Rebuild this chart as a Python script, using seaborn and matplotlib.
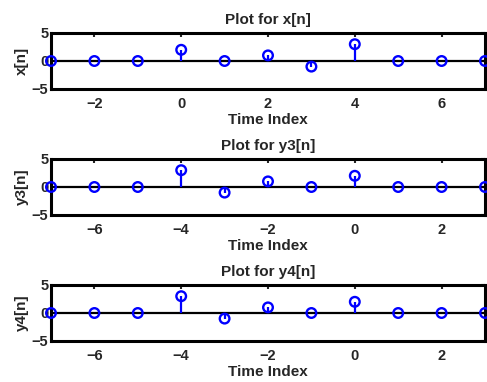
import numpy as np
import pandas as pd
import matplotlib
matplotlib.use("Agg")
import matplotlib.pyplot as plt
import seaborn as sns

# Original sequence and its time-reversed versions
n_x = [-3, -2, -1, 0, 1, 2, 3, 4, 5, 6, 7]
x_vals = [0, 0, 0, 2, 0, 1, -1, 3, 0, 0, 0]

n_y3 = [-7, -6, -5, -4, -3, -2, -1, 0, 1, 2, 3]
y3_vals = [0, 0, 0, 3, -1, 1, 0, 2, 0, 0, 0]

n_y4 = [-7, -6, -5, -4, -3, -2, -1, 0, 1, 2, 3]
y4_vals = [0, 0, 0, 3, -1, 1, 0, 2, 0, 0, 0]

titles = ["Plot for x[n]", "Plot for y3[n]", "Plot for y4[n]"]
ylabels = ["x[n]", "y3[n]", "y4[n]"]
xlabel = "Time Index"

sns.set_style("white")
plt.rcParams["font.family"] = ["Liberation Sans", "DejaVu Sans"]
plt.rcParams["font.weight"] = "bold"

fig = plt.figure(figsize=(4.87, 3.82), dpi=100)
W, H = 487, 382
# axes boxes in pixels: left, top, right, bottom
boxes = [(51, 33, 485, 89), (51, 159, 485, 215), (51, 285, 485, 341)]

series = [(n_x, x_vals), (n_y3, y3_vals), (n_y4, y4_vals)]
blue = "#0000ff"
fs = 10.5

for (l, t, r, b), (n, v), title, ylab in zip(boxes, series, titles, ylabels):
    ax = fig.add_axes([l / W, 1 - b / H, (r - l) / W, (b - t) / H])
    df = pd.DataFrame({"n": n, "v": v})
    ax.axhline(0, color="black", lw=1.6, zorder=1)
    ax.vlines(df["n"], 0, df["v"], color=blue, lw=1.6, zorder=2)
    sns.scatterplot(data=df, x="n", y="v", ax=ax, marker="o", s=48,
                    facecolors="none", edgecolor=blue, linewidth=1.7,
                    zorder=3, clip_on=False, legend=False)
    ax.set_xlim(min(n), max(n))
    ax.set_ylim(-5, 5)
    ax.set_yticks([-5, 0, 5])
    ax.set_xticks([t for t in range(min(n), max(n) + 1) if t % 2 == 0])
    ax.tick_params(direction="in", length=3, width=1.5, top=True, right=True,
                   labelsize=fs)
    ax.tick_params(axis="x", pad=6)
    ax.tick_params(axis="y", pad=2)
    for lab in ax.get_xticklabels() + ax.get_yticklabels():
        lab.set_fontweight("bold")
    for sp in ax.spines.values():
        sp.set_linewidth(2.2)
        sp.set_color("black")
    ax.set_title(title, fontsize=11, fontweight="bold", pad=6.5)
    ax.set_xlabel(xlabel, fontsize=11, fontweight="bold", labelpad=1)
    ax.set_ylabel(ylab, fontsize=11, fontweight="bold", labelpad=2)

fig.savefig("out.png", dpi=100)
